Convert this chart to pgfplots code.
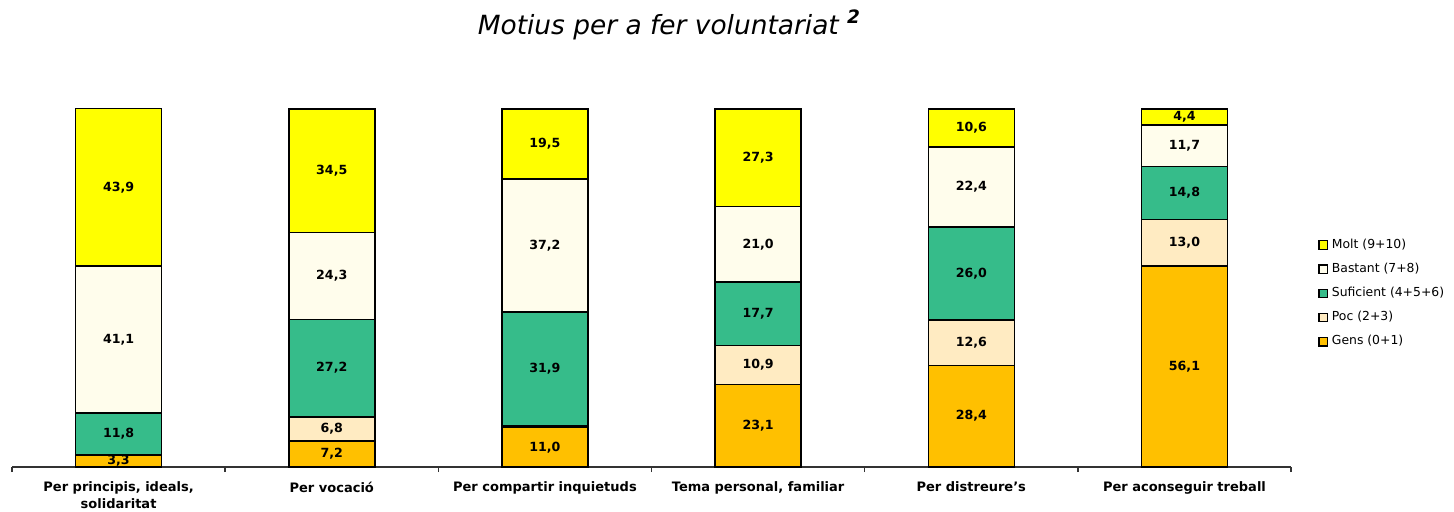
\documentclass[border=0pt]{standalone}
\usepackage{pgfplots}
\usepackage{pgfplotstable}
\pgfplotsset{compat=1.18}
\usepackage{fontspec}
\setmainfont{DejaVu Sans}
\definecolor{cMolt}{HTML}{FFFF00}
\definecolor{cBastant}{HTML}{FFFDEC}
\definecolor{cSuf}{HTML}{36BC8A}
\definecolor{cPoc}{HTML}{FFEBC2}
\definecolor{cGens}{HTML}{FFC000}

\pgfplotstableread{
x y lab
0 3.3 3,3
1 7.2 7,2
2 11.0 11,0
3 23.1 23,1
4 28.4 28,4
5 56.1 56,1
}\gens
\pgfplotstableread{
x y lab
0 0.0 {}
1 6.8 6,8
2 0.4 {}
3 10.9 10,9
4 12.6 12,6
5 13.0 13,0
}\poc
\pgfplotstableread{
x y lab
0 11.8 11,8
1 27.2 27,2
2 31.9 31,9
3 17.7 17,7
4 26.0 26,0
5 14.8 14,8
}\suf
\pgfplotstableread{
x y lab
0 41.1 41,1
1 24.3 24,3
2 37.2 37,2
3 21.0 21,0
4 22.4 22,4
5 11.7 11,7
}\bastant
\pgfplotstableread{
x y lab
0 43.9 43,9
1 34.5 34,5
2 19.5 19,5
3 27.3 27,3
4 10.6 10,6
5 4.4 4,4
}\molt

\begin{document}
\begin{tikzpicture}
\begin{axis}[
  scale only axis,
  width=639.5bp, height=179bp,
  xmin=-0.5, xmax=5.5, ymin=0, ymax=100,
  ybar stacked, bar width=43bp,
  axis x line*=bottom, axis y line=none,
  x axis line style={line width=0.75bp, draw=black!80},
  xtick={0,...,5},
  xticklabels={{Per principis, ideals,\\solidaritat},{Per vocació},{Per compartir inquietuds},{Tema personal, familiar},{Per distreure's},{Per aconseguir treball}},
  xticklabel style={font=\fontsize{6.5bp}{8.4bp}\selectfont\bfseries, align=center, anchor=north, yshift=-3.8bp},
  major tick length=0pt,
  minor xtick={-0.5,0.5,...,5.5},
  minor tick length=2.5bp,
  tick align=outside,
  minor tick style={line width=0.75bp, draw=black!80},
  point meta=explicit symbolic,
  nodes near coords,
  every node near coord/.append style={anchor=center, font=\fontsize{6.3bp}{7bp}\selectfont\bfseries},
  every axis plot/.append style={draw=black, line width=0.75bp},
  title={\fontsize{13.2bp}{15bp}\selectfont\itshape Motius per a fer voluntariat \textsuperscript{\bfseries 2}},
  title style={at={(axis description cs:0.514,1.201)}, anchor=center, inner sep=0pt},
  reverse legend,
  legend style={at={(axis description cs:1.021,0.485)}, anchor=west, draw=none, fill=none,
    font=\fontsize{6.2bp}{7bp}\selectfont, row sep=1.9bp, inner sep=0pt,
    /tikz/every even column/.append style={column sep=1bp}},
  legend cell align=left,
  legend image code/.code={\draw[#1, line width=0.6bp] (0bp,-2.1bp) rectangle (4.2bp,2.1bp);},
  clip=false,
]
\addplot[fill=cGens] table[x=x,y=y,meta=lab] {\gens};
\addplot[fill=cPoc] table[x=x,y=y,meta=lab] {\poc};
\addplot[fill=cSuf] table[x=x,y=y,meta=lab] {\suf};
\addplot[fill=cBastant] table[x=x,y=y,meta=lab] {\bastant};
\addplot[fill=cMolt] table[x=x,y=y,meta=lab] {\molt};
\legend{Gens (0+1),Poc (2+3),Suficient (4+5+6),Bastant (7+8),Molt (9+10)}
\coordinate (BL) at (rel axis cs:-0.00938,-0.1229);
\coordinate (TR) at (rel axis cs:1.1274,1.3045);
\end{axis}
\pgfresetboundingbox
\useasboundingbox (BL) rectangle (TR);
\end{tikzpicture}
\end{document}
